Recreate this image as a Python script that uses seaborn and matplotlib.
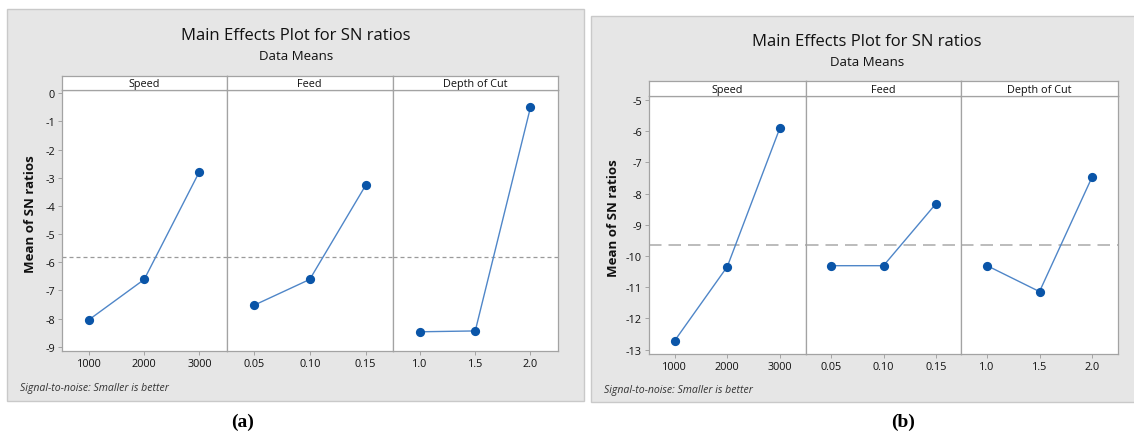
import numpy as np
import pandas as pd
import matplotlib
matplotlib.use("Agg")
import matplotlib.pyplot as plt
from matplotlib.patches import Rectangle
import seaborn as sns

# ---------------- data ----------------
factor_names = ["Speed", "Feed", "Depth of Cut"]
speed_levels = ["1000", "2000", "3000"]
feed_levels = ["0.05", "0.10", "0.15"]
doc_levels = ["1.0", "1.5", "2.0"]

# chart (a)
a_speed = [-8.04, -6.61, -2.78]
a_feed = [-7.53, -6.61, -3.27]
a_doc = [-8.47, -8.44, -0.50]
a_yticks = [0, -1, -2, -3, -4, -5, -6, -7, -8, -9]

# chart (b)
b_speed = [-12.71, -10.34, -5.90]
b_feed = [-10.31, -10.31, -8.33]
b_doc = [-10.31, -11.14, -7.48]
b_yticks = [-5, -6, -7, -8, -9, -10, -11, -12, -13]

title_text = "Main Effects Plot for SN ratios"
subtitle_text = "Data Means"
ylabel_text = "Mean of SN ratios"
foot_text = "Signal-to-noise: Smaller is better"

# ---------------- style ----------------
sns.set_theme(style="white")
plt.rcParams["font.family"] = ["Open Sans", "DejaVu Sans"]

W, H = 1134, 435
fig = plt.figure(figsize=(W / 100, H / 100), dpi=100)
fig.patch.set_facecolor("white")

BG = "#e6e6e6"
BORDER = "#c9c9c9"
SPINE = "#a3a3a3"
LINE_C = "#4f86c8"
MARK_C = "#0a55a8"
TXT = "#111111"


def fx(x):
    return x / W


def fy(y):
    return 1 - y / H


def box(x0, y0, x1, y1):
    fig.patches.append(Rectangle((fx(x0), fy(y1)), fx(x1) - fx(x0), fy(y0) - fy(y1),
                                 transform=fig.transFigure, facecolor=BG,
                                 edgecolor=BORDER, linewidth=1.0, zorder=-5))


def chart(box_xy, title_xy, sub_y, ylab_xy, foot_xy, lab_xy, lab, panels_x,
          strip_top, strip_bot, ax_bot, ylim, yticks, series, dash, dash_c, dash_lw):
    box(*box_xy)
    fig.text(fx(title_xy[0]), fy(title_xy[1]), title_text, ha="center", va="center",
             fontsize=12, color=TXT)
    fig.text(fx(title_xy[0]), fy(sub_y), subtitle_text, ha="center", va="center",
             fontsize=9.5, color=TXT)
    fig.text(fx(ylab_xy[0]), fy(ylab_xy[1]), ylabel_text, ha="center", va="center",
             rotation=90, fontsize=9.5, fontweight="bold", color=TXT)
    fig.text(fx(foot_xy[0]), fy(foot_xy[1]), foot_text, ha="left", va="center",
             fontsize=7.6, style="italic", color="#333333")
    fig.text(fx(lab_xy[0]), fy(lab_xy[1]), lab, ha="center", va="center",
             fontsize=14, fontweight="bold", family="Liberation Serif", color="black")

    grand_mean = np.mean(series[0][1])
    axes = []
    for i, (levels, vals, name) in enumerate(series):
        x0, x1 = panels_x[i], panels_x[i + 1]
        ax = fig.add_axes([fx(x0), fy(ax_bot), fx(x1) - fx(x0), fy(strip_bot) - fy(ax_bot)])
        ax.set_facecolor("white")
        df = pd.DataFrame({"level": levels, "sn": vals})
        sns.pointplot(data=df, x="level", y="sn", order=levels, ax=ax, color=LINE_C,
                      errorbar=None, markers="o", linestyles="-")
        for ln in ax.lines:
            ln.set_linewidth(1.0)
            ln.set_markersize(4.6)
            ln.set_markerfacecolor(MARK_C)
            ln.set_markeredgecolor(MARK_C)
            ln.set_zorder(3)
        ax.axhline(grand_mean, color=dash_c, lw=dash_lw, ls=dash, zorder=1)
        ax.set_xlim(-0.49, 2.49)
        ax.set_ylim(*ylim)
        ax.set_xlabel("")
        ax.set_ylabel("")
        ax.set_yticks(yticks)
        ax.tick_params(axis="x", bottom=True, length=3, width=0.7, color=SPINE,
                       labelsize=7.8, pad=2, labelcolor=TXT)
        if i == 0:
            ax.set_yticklabels([str(t) for t in yticks])
            ax.tick_params(axis="y", left=True, length=3, width=0.7, color=SPINE,
                           labelsize=7.8, pad=2, labelcolor=TXT)
        else:
            ax.tick_params(axis="y", left=False, labelleft=False)
        for sp in ax.spines.values():
            sp.set_color(SPINE)
            sp.set_linewidth(0.9)
        # strip
        sax = fig.add_axes([fx(x0), fy(strip_bot), fx(x1) - fx(x0), fy(strip_top) - fy(strip_bot)])
        sax.set_facecolor("white")
        sax.set_xticks([])
        sax.set_yticks([])
        for sp in sax.spines.values():
            sp.set_color(SPINE)
            sp.set_linewidth(0.9)
        sax.text(0.5, 0.45, name, ha="center", va="center", fontsize=7.8,
                 color=TXT, transform=sax.transAxes)
        axes.append(ax)
    return axes


chart(box_xy=(7, 10, 584, 402), title_xy=(296, 36), sub_y=57, ylab_xy=(31, 214),
      foot_xy=(20, 389), lab_xy=(243, 422), lab="(a)",
      panels_x=[62, 226.5, 393, 557.5], strip_top=76.7, strip_bot=90.7, ax_bot=351.7,
      ylim=(-9.142, 0.128), yticks=a_yticks,
      series=[(speed_levels, a_speed, factor_names[0]),
              (feed_levels, a_feed, factor_names[1]),
              (doc_levels, a_doc, factor_names[2])],
      dash=(0, (3.2, 2.4)), dash_c="#9a9a9a", dash_lw=0.9)

chart(box_xy=(591, 17, 1140, 403), title_xy=(867, 42), sub_y=62, ylab_xy=(613, 218),
      foot_xy=(604, 391), lab_xy=(903, 422), lab="(b)",
      panels_x=[649, 805.6, 961.4, 1117.6], strip_top=82.3, strip_bot=96.5, ax_bot=355,
      ylim=(-13.14, -4.856), yticks=b_yticks,
      series=[(speed_levels, b_speed, factor_names[0]),
              (feed_levels, b_feed, factor_names[1]),
              (doc_levels, b_doc, factor_names[2])],
      dash=(0, (7.5, 4.2)), dash_c="#b0b0b0", dash_lw=1.2)

fig.savefig("out.png", dpi=100, facecolor="white")
